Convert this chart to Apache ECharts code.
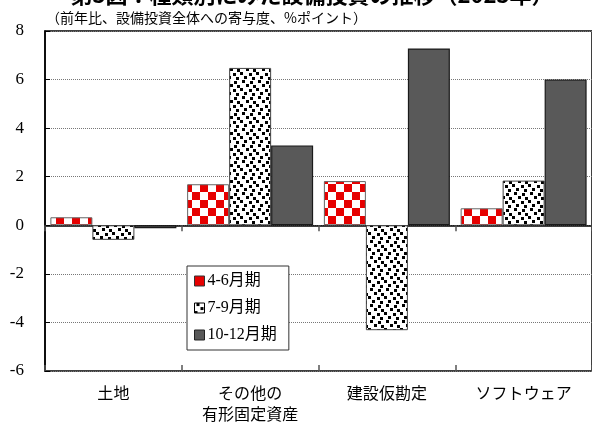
<!DOCTYPE html>
<html>
<head>
<meta charset="utf-8">
<script src="https://cdn.jsdelivr.net/npm/echarts@6/dist/echarts.min.js"></script>
<style>
  html, body { margin: 0; padding: 0; background: #fff; }
  #chart { width: 592px; height: 425px; }
</style>
</head>
<body>
<div id="chart"></div>
<script>
// Categories and contributions (% points, y/y) by quarter
const categories = ['土地', 'その他の\n有形固定資産', '建設仮勘定', 'ソフトウェア'];
const seriesNames = ['4-6月期', '7-9月期', '10-12月期'];
const q2Values = [0.33, 1.69, 1.82, 0.70];
const q3Values = [-0.60, 6.48, -4.32, 1.84];
const q4Values = [-0.12, 3.29, 7.28, 6.00];
const yTicks = { min: -6, max: 8, interval: 2 };

const titleText = '第3図：種類別にみた設備投資の推移（2023年）';
const subtitleText = '（前年比、設備投資全体への寄与度、%ポイント）';

// Red / white checkerboard fill
function checkerPattern() {
  const c = document.createElement('canvas');
  c.width = 16; c.height = 16;
  const g = c.getContext('2d');
  g.fillStyle = '#ffffff'; g.fillRect(0, 0, 16, 16);
  g.fillStyle = '#e60000';
  g.fillRect(0, 0, 8, 8);
  g.fillRect(8, 8, 8, 8);
  return c;
}

// White fill with scattered black squares (confetti)
function confettiPattern() {
  const c = document.createElement('canvas');
  c.width = 16; c.height = 16;
  const g = c.getContext('2d');
  g.fillStyle = '#ffffff'; g.fillRect(0, 0, 16, 16);
  g.fillStyle = '#000000';
  const dots = [[2, 0], [10, 1], [6, 4], [13, 5], [0, 8], [9, 9], [4, 12], [12, 13]];
  dots.forEach(([x, y]) => g.fillRect(x, y, 3, 3));
  return c;
}

const serifFont = "'Liberation Serif', 'Noto Sans CJK JP', serif";
const cjkFont = "'Noto Sans CJK JP', sans-serif";

const chart = echarts.init(document.getElementById('chart'), null, { renderer: 'canvas' });

const catAxisBase = {
  type: 'category',
  data: categories,
  gridIndex: 0,
  boundaryGap: true
};

chart.setOption({
  animation: false,
  backgroundColor: '#ffffff',
  grid: {
    left: 45, top: 31, width: 550, height: 340,
    show: true, borderColor: '#000', borderWidth: 1.5, backgroundColor: 'transparent'
  },
  graphic: [
    {
      type: 'text', x: 312, y: -16,
      style: { text: titleText, font: "bold 22px " + cjkFont, fill: '#000', align: 'center' }
    },
    {
      type: 'text', x: 46, y: 11,
      style: { text: subtitleText, font: "14px " + cjkFont, fill: '#000' }
    }
  ],
  legend: {
    orient: 'vertical',
    left: 187, top: 266,
    padding: [7, 12, 7, 7],
    itemWidth: 10, itemHeight: 10, itemGap: 11,
    backgroundColor: '#ffffff', borderColor: '#333', borderWidth: 1,
    icon: 'rect',
    textStyle: { fontFamily: serifFont, fontSize: 16, color: '#000', padding: [0, 0, 0, -2] },
    data: [
      { name: seriesNames[0], itemStyle: { color: '#e60000', borderColor: '#333', borderWidth: 1 } },
      { name: seriesNames[1], itemStyle: { borderColor: '#000', borderWidth: 1 } },
      { name: seriesNames[2], itemStyle: { color: '#595959', borderColor: '#222', borderWidth: 1 } }
    ]
  },
  xAxis: [
    Object.assign({}, catAxisBase, {
      position: 'bottom',
      axisLine: { show: false, onZero: false },
      axisTick: { show: false },
      axisLabel: { fontFamily: cjkFont, fontSize: 16, color: '#000', margin: 11, lineHeight: 21 },
      splitLine: { show: false }
    }),
    Object.assign({}, catAxisBase, {
      position: 'bottom',
      axisLine: { show: true, onZero: true, lineStyle: { color: '#000', width: 1.5 } },
      axisTick: { show: true, inside: false, length: 6, lineStyle: { color: '#555', width: 1.5 } },
      axisLabel: { show: false },
      splitLine: { show: false }
    }),
    Object.assign({}, catAxisBase, {
      position: 'bottom',
      axisLine: { show: false, onZero: true },
      axisTick: { show: true, inside: true, length: 6, lineStyle: { color: '#555', width: 1.5 } },
      axisLabel: { show: false },
      splitLine: { show: false }
    })
  ],
  yAxis: {
    type: 'value',
    min: yTicks.min, max: yTicks.max, interval: yTicks.interval,
    axisLine: { show: true, lineStyle: { color: '#000', width: 1.5 } },
    axisTick: { show: true, inside: true, length: 5, lineStyle: { color: '#000', width: 1 } },
    axisLabel: { fontFamily: serifFont, fontSize: 17, color: '#000', margin: 21 },
    splitLine: { show: true, lineStyle: { color: '#777', type: [1, 1], width: 1 } }
  },
  series: [
    {
      name: seriesNames[0], type: 'bar', xAxisIndex: 0, data: q2Values,
      barWidth: 42, barGap: '0%',
      itemStyle: { color: { image: checkerPattern(), repeat: 'repeat' }, borderColor: '#666', borderWidth: 1 }
    },
    {
      name: seriesNames[1], type: 'bar', xAxisIndex: 0, data: q3Values,
      barWidth: 42, barGap: '0%',
      itemStyle: { color: { image: confettiPattern(), repeat: 'repeat' }, borderColor: '#444', borderWidth: 1 }
    },
    {
      name: seriesNames[2], type: 'bar', xAxisIndex: 0, data: q4Values,
      barWidth: 42, barGap: '0%',
      itemStyle: { color: '#595959', borderColor: '#1a1a1a', borderWidth: 1.2 }
    }
  ]
});
</script>
</body>
</html>
